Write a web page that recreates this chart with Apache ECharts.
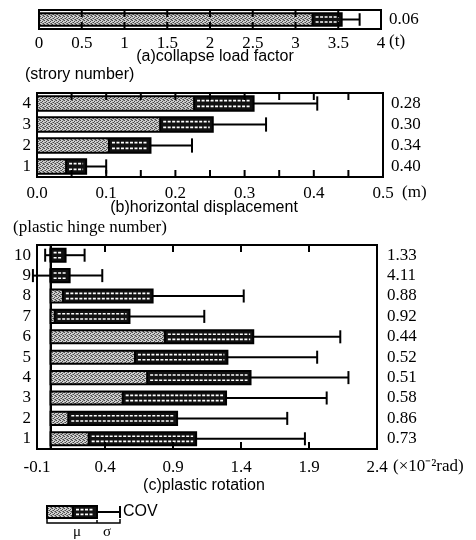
<!DOCTYPE html>
<html><head><meta charset="utf-8">
<script src="https://cdn.jsdelivr.net/npm/echarts@6/dist/echarts.min.js"></script>
<style>html,body{margin:0;padding:0;background:#fff}#c{width:476px;height:540px}</style>
</head><body><div id="c"></div>
<script>
// ---------- data ----------
const loadCats = ['load'];
const loadGray = [3.20];
const loadMean = [3.54];
const loadUpper = [3.75];
const loadLower = [null];
const loadCov = ['0.06'];

const storyCats = ['1', '2', '3', '4'];
const dispGray = [0.042, 0.104, 0.178, 0.227];
const dispMean = [0.071, 0.164, 0.254, 0.313];
const dispUpper = [0.100, 0.224, 0.331, 0.405];
const dispLower = [null, null, null, null];
const dispCov = ['0.40', '0.34', '0.30', '0.28'];

const hingeCats = ['1', '2', '3', '4', '5', '6', '7', '8', '9', '10'];
const rotGray = [0.28, 0.13, 0.53, 0.71, 0.62, 0.84, 0.03, 0.09, 0, 0];
const rotMean = [1.07, 0.93, 1.29, 1.47, 1.30, 1.49, 0.58, 0.75, 0.14, 0.11];
const rotUpper = [1.87, 1.74, 2.03, 2.19, 1.96, 2.13, 1.13, 1.42, 0.38, 0.25];
const rotLower = [null, null, null, null, null, null, null, null, -0.13, -0.04];
const rotCov = ['0.73', '0.86', '0.58', '0.51', '0.52', '0.44', '0.92', '0.88', '4.11', '1.33'];

const loadAxis = {min: 0, max: 4, interval: 0.5};
const dispAxis = {min: 0, max: 0.5, interval: 0.1};
const rotAxis = {min: -0.1, max: 2.4, interval: 0.5};

// tick mark positions (inside ticks on top and bottom frame)
const loadTicks = [0.5, 1, 1.5, 2, 2.5, 3, 3.5];
const dispTicks = [0.05, 0.1, 0.15, 0.2, 0.25, 0.3, 0.35, 0.4, 0.45];
const rotTicks = [0.4, 0.9, 1.4, 1.9];

// ---------- styling helpers ----------
const SERIF = 'Liberation Serif';
const SANS = 'Liberation Sans';

const pc = document.createElement('canvas');
pc.width = 4; pc.height = 4;
const pctx = pc.getContext('2d');
pctx.fillStyle = '#cfcfcf'; pctx.fillRect(0, 0, 4, 4);
pctx.fillStyle = '#4a4a4a';
pctx.fillRect(0, 0, 1, 1); pctx.fillRect(2, 1, 1, 1); pctx.fillRect(1, 2, 1, 1); pctx.fillRect(3, 3, 1, 1);
pctx.fillStyle = '#808080';
pctx.fillRect(2, 3, 1, 1); pctx.fillRect(0, 2, 1, 1); pctx.fillRect(3, 0, 1, 1);
const grayFill = {image: pc, repeat: 'repeat'};

function barShapes(x0, xg, xm, xu, xl, y, h) {
  const ch = [];
  ch.push({type: 'line', shape: {x1: xm, y1: y, x2: xu, y2: y}, style: {stroke: '#000', lineWidth: 2}});
  ch.push({type: 'line', shape: {x1: xu, y1: y - h / 2, x2: xu, y2: y + h / 2}, style: {stroke: '#000', lineWidth: 2}});
  if (xl !== null) {
    ch.push({type: 'line', shape: {x1: xl, y1: y, x2: x0, y2: y}, style: {stroke: '#000', lineWidth: 2}});
    ch.push({type: 'line', shape: {x1: xl, y1: y - h / 2, x2: xl, y2: y + h / 2}, style: {stroke: '#000', lineWidth: 2}});
  }
  if (xg > x0 + 0.5) {
    ch.push({type: 'rect', shape: {x: x0, y: y - h / 2, width: xg - x0, height: h}, style: {fill: grayFill}});
  }
  ch.push({type: 'rect', shape: {x: xg, y: y - h / 2, width: xm - xg, height: h}, style: {fill: '#111'}});
  if (xm - xg > 4) {
    [-h / 5, h / 5].forEach(function (d) {
      ch.push({type: 'line', shape: {x1: xg + 3, y1: y + d, x2: xm - 3, y2: y + d},
        style: {stroke: '#fff', lineWidth: 1.6, lineDash: [3, 1.5]}});
    });
  }
  ch.push({type: 'line', shape: {x1: xg, y1: y - h / 2, x2: xg, y2: y + h / 2}, style: {stroke: '#000', lineWidth: 2}});
  ch.push({type: 'rect', shape: {x: x0, y: y - h / 2, width: xm - x0, height: h},
    style: {fill: 'none', stroke: '#000', lineWidth: 2}});
  return ch;
}

function makeRender(ratio, zeroLine, ticks) {
  return function (params, api) {
    const idx = api.value(0);
    const g = api.value(1), m = api.value(2), u = api.value(3), l = api.value(4);
    const p0 = api.coord([0, idx]);
    const y = p0[1];
    const h = api.size([0, 1])[1] * ratio;
    const x0 = p0[0];
    const xg = api.coord([g, idx])[0];
    const xm = api.coord([m, idx])[0];
    const xu = api.coord([u, idx])[0];
    const xl = isNaN(l) ? null : api.coord([l, idx])[0];
    const ch = barShapes(x0, xg, xm, xu, xl, y, h);
    if (params.dataIndex === 0) {
      const cs = params.coordSys;
      if (zeroLine) {
        ch.unshift({type: 'line', shape: {x1: x0, y1: cs.y, x2: x0, y2: cs.y + cs.height},
          style: {stroke: '#000', lineWidth: 2}});
      }
      ticks.forEach(function (v) {
        const tx = api.coord([v, idx])[0];
        ch.push({type: 'rect', z2: 50, shape: {x: tx - 1, y: cs.y, width: 2, height: 7}, style: {fill: '#000'}});
        ch.push({type: 'rect', z2: 50, shape: {x: tx - 1, y: cs.y + cs.height - 7, width: 2, height: 7}, style: {fill: '#000'}});
      });
    }
    return {type: 'group', children: ch};
  };
}

function buildData(cats, gray, mean, upper, lower) {
  return cats.map(function (c, i) {
    return [i, gray[i], mean[i], upper[i], lower[i] === null ? '-' : lower[i]];
  });
}

function xAx(gi, rng, pos, showLabel, fmt, margin) {
  return {
    type: 'value', gridIndex: gi, position: pos, min: rng.min, max: rng.max, interval: rng.interval,
    axisLine: {show: true, lineStyle: {color: '#000', width: 2}},
    axisTick: {show: false},
    splitLine: {show: false},
    axisLabel: {show: showLabel, color: '#000', fontFamily: SERIF, fontSize: 17, margin: margin, formatter: fmt}
  };
}
function yAx(gi, data, pos, showLabel, margin) {
  return {
    type: 'category', gridIndex: gi, position: pos, data: data,
    axisLine: {show: true, lineStyle: {color: '#000', width: 2}},
    axisTick: {show: false}, splitLine: {show: false},
    axisLabel: {show: showLabel, interval: 0, color: '#000', fontFamily: SERIF, fontSize: 17, margin: margin}
  };
}

const fmt1 = function (v) { return v.toFixed(1); };
const fmtA = function (v) { return String(Math.round(v * 10) / 10); };

function gridOf(l, t, w, h) {
  return {left: l, top: t, width: w, height: h, show: true, borderColor: '#000', borderWidth: 2};
}

function txt(text, x, y, size, family, align) {
  return {type: 'text', x: x, y: y, style: {text: text, fill: '#000', font: size + 'px "' + family + '"',
    textAlign: align || 'center', textVerticalAlign: 'middle'}};
}

// legend sample (decoration)
const lg = barShapes(47, 73, 97, 120, null, 512, 12);

const option = {
  animation: false,
  backgroundColor: '#fff',
  grid: [gridOf(39, 10, 342, 19), gridOf(37, 93, 346, 84), gridOf(37, 245, 340, 204)],
  xAxis: [
    xAx(0, loadAxis, 'bottom', true, fmtA, 6),
    xAx(0, loadAxis, 'top', false, fmtA, 6),
    xAx(1, dispAxis, 'bottom', true, fmt1, 8),
    xAx(1, dispAxis, 'top', false, fmt1, 8),
    xAx(2, rotAxis, 'bottom', true, fmt1, 10),
    xAx(2, rotAxis, 'top', false, fmt1, 10)
  ],
  yAxis: [
    yAx(0, loadCats, 'left', false, 6),
    yAx(0, loadCov, 'right', true, 8),
    yAx(1, storyCats, 'left', true, 6),
    yAx(1, dispCov, 'right', true, 8),
    yAx(2, hingeCats, 'left', true, 6),
    yAx(2, rotCov, 'right', true, 10)
  ],
  series: [
    {type: 'custom', xAxisIndex: 0, yAxisIndex: 0, renderItem: makeRender(0.66, false, loadTicks),
      encode: {x: [1, 2, 3], y: 0}, data: buildData(loadCats, loadGray, loadMean, loadUpper, loadLower)},
    {type: 'custom', xAxisIndex: 2, yAxisIndex: 2, renderItem: makeRender(0.68, false, dispTicks),
      encode: {x: [1, 2, 3], y: 0}, data: buildData(storyCats, dispGray, dispMean, dispUpper, dispLower)},
    {type: 'custom', xAxisIndex: 4, yAxisIndex: 4, renderItem: makeRender(0.64, true, rotTicks),
      encode: {x: [1, 2, 3], y: 0}, data: buildData(hingeCats, rotGray, rotMean, rotUpper, rotLower)}
  ],
  graphic: [
    txt('(t)', 389, 42, 17, SERIF, 'left'),
    txt('(a)collapse load factor', 215, 57, 16, SANS),
    txt('(strory number)', 25, 75, 16, SANS, 'left'),
    txt('(m)', 402, 193, 17, SERIF, 'left'),
    txt('(b)horizontal displacement', 204, 208, 16, SANS),
    txt('(plastic hinge number)', 13, 228, 17, SERIF, 'left'),
    txt('(×10⁻²rad)', 393, 467, 17, SERIF, 'left'),
    txt('(c)plastic rotation', 204, 486, 16, SANS)
  ].concat(lg).concat([
    txt('COV', 123, 512, 16, SANS, 'left'),
    {type: 'polyline', shape: {points: [[47, 519], [47, 523], [120, 523], [120, 519]]}, style: {stroke: '#000', lineWidth: 1.5, fill: 'none'}},
    {type: 'line', shape: {x1: 97, y1: 520, x2: 97, y2: 523}, style: {stroke: '#000', lineWidth: 1.5}},
    txt('μ', 77, 532, 15, SERIF),
    txt('σ', 107, 532, 15, SERIF)
  ])
};

const chart = echarts.init(document.getElementById('c'), null, {renderer: 'canvas'});
chart.setOption(option);
</script>
</body></html>
